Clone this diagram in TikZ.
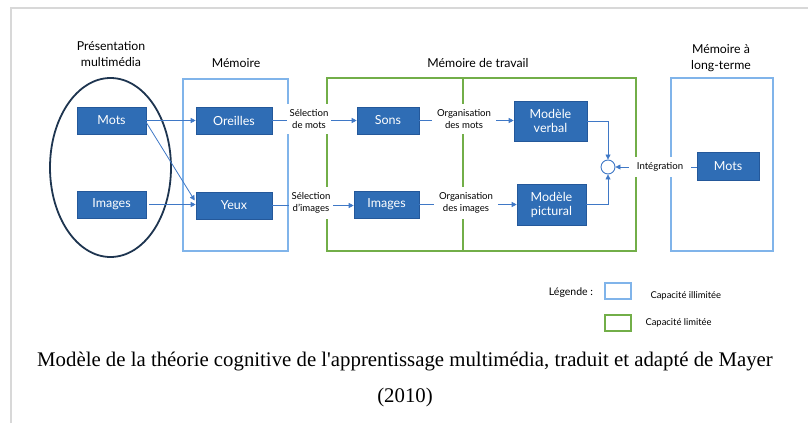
\documentclass[tikz,border=0pt]{standalone}
\usepackage{fontspec}
\setmainfont{Lato}
\newfontfamily\capfont{Liberation Serif}
\usetikzlibrary{arrows.meta,calc}
\definecolor{boxblue}{HTML}{2F6DB5}
\definecolor{boxedge}{HTML}{24589A}
\definecolor{lblue}{HTML}{80B4EA}
\definecolor{lgreen}{HTML}{72AE48}
\definecolor{arrblue}{HTML}{3F78C6}
\definecolor{navy}{HTML}{1E3550}
\definecolor{framegray}{HTML}{D8D8D8}
\tikzset{
  bluebox/.style={draw=boxedge, fill=boxblue, text=white, line width=0.6pt,
    font=\fontsize{12.5}{14}\selectfont, inner sep=0pt, align=center,
    minimum height=27pt},
  lbl/.style={fill=white, font=\fontsize{9.6}{11.5}\selectfont, align=center,
    inner xsep=3pt, inner ysep=6pt},
  head/.style={font=\fontsize{12.3}{16}\selectfont, align=center},
  arr/.style={draw=arrblue, line width=0.8pt, -{Triangle[length=5pt,width=5pt]}},
  region/.style={line width=2pt},
  legbox/.style={line width=2pt, minimum width=26pt, minimum height=16pt, inner sep=0pt},
  legtxt/.style={font=\fontsize{9.4}{11}\selectfont, anchor=west}
}
\begin{document}
\begin{tikzpicture}[x=1pt,y=-1pt]
\useasboundingbox (0,0) rectangle (808,423);
\draw[framegray, line width=1.5pt] (11,423) -- (11,8) -- (808,8);

% regions
\draw[region, lblue] (183,79) rectangle (288,251);
\draw[region, lgreen] (327,78) rectangle (636,251);
\draw[region, lgreen] (463,78) -- (463,251);
\draw[region, lblue] (671,78) rectangle (773,251);
\draw[navy, line width=1.8pt] (110.5,167.5) ellipse [x radius=60.5, y radius=89.5];

% headers
\node[head] (hpres) at (111,54) {Présentation\\multimédia};
\node[head] (hmem) at (236,63) {Mémoire};
\node[head] (htrav) at (478,63) {Mémoire de travail};
\node[head] (hlong) at (721,58) {Mémoire à\\long-terme};

% boxes
\node[bluebox, minimum width=69pt] (mots) at (111.5,120.5) {Mots};
\node[bluebox, minimum width=69pt] (images) at (111.5,204.5) {Images};
\node[bluebox, minimum width=76pt] (oreilles) at (234,120.5) {Oreilles};
\node[bluebox, minimum width=76pt] (yeux) at (234,205.5) {Yeux};
\node[bluebox, minimum width=62pt] (sons) at (388,120.5) {Sons};
\node[bluebox, minimum width=65pt] (images2) at (386.5,204.5) {Images};
\node[bluebox, minimum width=73pt, minimum height=40pt] (verbal) at (550.5,121) {Modèle\\verbal};
\node[bluebox, minimum width=69pt, minimum height=41pt] (pictural) at (551.5,204.5) {Modèle\\pictural};
\node[bluebox, minimum width=62pt, minimum height=28pt] (ltm) at (728,166) {Mots};
\node[circle, draw=arrblue, line width=0.9pt, fill=white, minimum size=14pt, inner sep=0pt] (circ) at (608,167) {};

% connectors
\draw[arr] (mots.east) -- (oreilles.west);
\draw[arr] ($(mots.east)+(0,2)$) -- ($(yeux.west)+(-1,-5)$);
\draw[arr] ($(images.east)+(3,0)$) -- (images.east -| yeux.west);
\draw[arr] (oreilles.east) -- (sons.west);
\draw[arr] (yeux.east) -- (yeux.east -| images2.west);
\draw[arr] (sons.east) -- (sons.east -| verbal.west);
\draw[arr] (images2.east) -- (images2.east -| pictural.west);
\draw[arr] (verbal.east) -| (circ.north);
\draw[arr] (pictural.east) -| (circ.south);
\draw[arr] (ltm.west |- circ) -- (circ.east);

% labels
\node[lbl] (selmots) at (309,119) {Sélection\\de mots};
\node[lbl] (selimg) at (311,203) {Sélection\\d'images};
\node[lbl, inner xsep=5pt] (orgmots) at (464,119) {Organisation\\des mots};
\node[lbl, inner xsep=5pt] (orgimg) at (466,203) {Organisation\\des images};
\node[lbl, inner xsep=8pt] (integ) at (660,167) {Intégration};

% legend
\node[font=\fontsize{10.5}{12}\selectfont] (leg) at (571,293) {Légende :};
\node[legbox, draw=lblue] (legu) at (618,291) {};
\node[legtxt] (legut) at (647,296) {Capacité illimitée};
\node[legbox, draw=lgreen] (legl) at (618,323) {};
\node[legtxt] (leglt) at (642,323) {Capacité limitée};

% caption
\node[font=\capfont\fontsize{20.8}{24}\selectfont] (cap1) at (405,362) {Modèle de la théorie cognitive de l'apprentissage multimédia, traduit et adapté de Mayer};
\node[font=\capfont\fontsize{20.8}{24}\selectfont] (cap2) at (405,397) {(2010)};
\end{tikzpicture}
\end{document}
